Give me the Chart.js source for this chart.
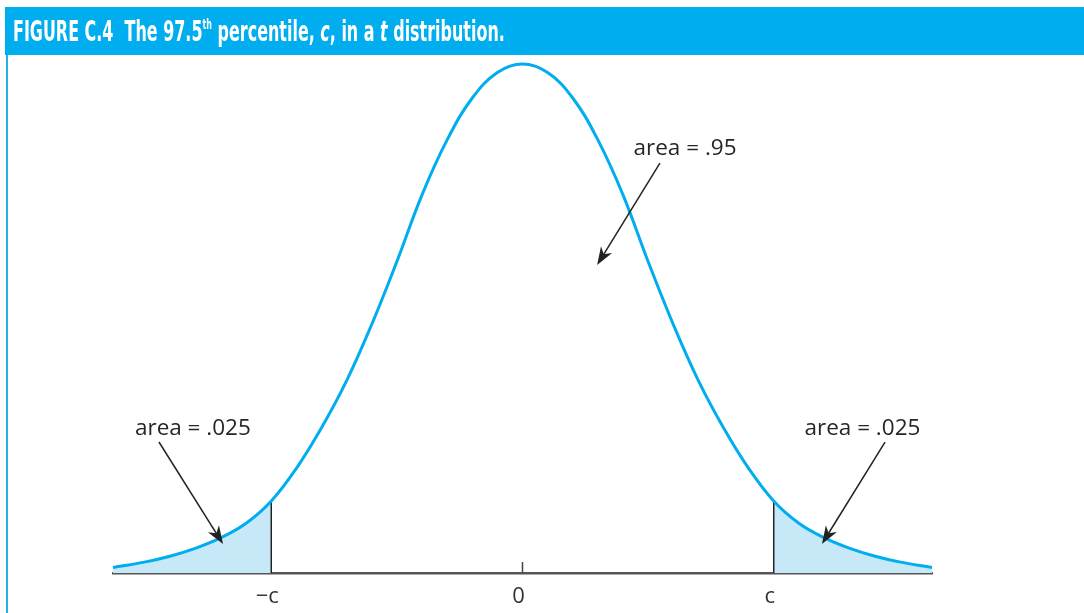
<!DOCTYPE html>
<html>
<head>
<meta charset="utf-8">
<script src="https://cdn.jsdelivr.net/npm/chart.js@4.4.1/dist/chart.umd.min.js"></script>
<style>
  html, body { margin: 0; padding: 0; background: #fff; }
  #page { position: relative; width: 1084px; height: 613px; overflow: hidden; }
  #bar { position: absolute; left: 5px; top: 7px; width: 1079px; height: 48px; background: #00aeef; z-index: 2; }
  #title {
    position: absolute; left: 8px; top: 1px; line-height: 48px; white-space: nowrap; color: #fff;
    font-family: "Liberation Sans Narrow", "DejaVu Sans Condensed", "Liberation Sans", sans-serif;
    font-weight: bold; font-size: 28px; font-stretch: condensed; transform-origin: 0 50%;
  }
  #title sup { font-size: 14px; vertical-align: 12px; line-height: 0; }
  #rule { position: absolute; left: 6px; top: 55px; width: 2px; height: 558px; background: #1fb2ea; }
  canvas { position: absolute; left: 0; top: 0; }
</style>
</head>
<body>
<div id="page">
  <canvas id="tChart" width="1084" height="613"></canvas>
  <div id="bar"><div id="title">FIGURE C.4&nbsp;&nbsp;The 97.5<sup>th</sup> percentile, <i>c</i>, in a <i>t</i> distribution.</div></div>
  <div id="rule"></div>
</div>
<script>
// density curve, x measured in units of c
const curveX = [-1.63, -1.5, -1.4, -1.3, -1.2, -1.1, -1.0, -0.9, -0.8, -0.7, -0.6, -0.5, -0.4, -0.3, -0.2, -0.1,
                0, 0.1, 0.2, 0.3, 0.4, 0.5, 0.6, 0.7, 0.8, 0.9, 1.0, 1.1, 1.2, 1.3, 1.4, 1.5, 1.63];
const curveY = [0.0042, 0.0085, 0.013, 0.019, 0.027, 0.038, 0.055, 0.080, 0.111, 0.147, 0.190, 0.238, 0.289, 0.331, 0.363, 0.3825,
                0.389, 0.3825, 0.363, 0.331, 0.289, 0.238, 0.190, 0.147, 0.111, 0.080, 0.055, 0.038, 0.027, 0.019, 0.013, 0.0085, 0.0042];
const cutoffs = [-1, 1];
const tickValues = [-1, 0, 1];
const tickLabels = ['\u2212c', '0', 'c'];
const zeroMark = [0, 0.0084];

const curvePts = curveX.map((x, i) => ({ x: x, y: curveY[i] }));
const leftTail = curvePts.filter(p => p.x <= cutoffs[0]);
const rightTail = curvePts.filter(p => p.x >= cutoffs[1]);
const heightAt = x => curveY[curveX.indexOf(x)];

const cyan = '#00aeef';
const shade = '#c6e8f7';
const ink = '#222';

const vline = (x, top, color, width) => ({
    data: [{ x: x, y: 0 }, { x: x, y: top }],
    borderColor: color, borderWidth: width, pointRadius: 0, fill: false, clip: false
});

// labelled areas with their pointers
const notes = [
    { text: 'area = .95', x: 0.647, y: 0.3195, from: [0.547, 0.3133], to: [0.297, 0.2354] },
    { text: 'area = .025', x: -1.312, y: 0.1055, from: [-1.447, 0.1001], to: [-1.192, 0.0222] },
    { text: 'area = .025', x: 1.353, y: 0.1055, from: [1.443, 0.1001], to: [1.192, 0.0222] }
];

const notesPlugin = {
    id: 'notes',
    afterDatasetsDraw(chart) {
        const { ctx, scales: { x, y } } = chart;
        ctx.save();
        ctx.strokeStyle = ink;
        ctx.font = '22.5px "Open Sans", "Noto Sans", sans-serif';
        ctx.textAlign = 'center';
        ctx.textBaseline = 'alphabetic';
        notes.forEach(n => {
            ctx.fillStyle = '#262626';
            ctx.fillText(n.text, x.getPixelForValue(n.x), y.getPixelForValue(n.y));
            const x1 = x.getPixelForValue(n.from[0]), y1 = y.getPixelForValue(n.from[1]);
            const x2 = x.getPixelForValue(n.to[0]), y2 = y.getPixelForValue(n.to[1]);
            const a = Math.atan2(y2 - y1, x2 - x1);
            const cos = Math.cos(a), sin = Math.sin(a);
            const len = 18, half = 6.5;
            ctx.lineWidth = 1.5;
            ctx.beginPath();
            ctx.moveTo(x1, y1);
            ctx.lineTo(x2 - cos * len * 0.6, y2 - sin * len * 0.6);
            ctx.stroke();
            ctx.beginPath();
            ctx.moveTo(x2, y2);
            ctx.lineTo(x2 - cos * len - sin * half, y2 - sin * len + cos * half);
            ctx.lineTo(x2 - cos * len * 0.7, y2 - sin * len * 0.7);
            ctx.lineTo(x2 - cos * len + sin * half, y2 - sin * len - cos * half);
            ctx.closePath();
            ctx.fillStyle = ink;
            ctx.fill();
        });
        ctx.restore();
    }
};

new Chart(document.getElementById('tChart'), {
    type: 'line',
    data: {
        datasets: [
            {
                data: curvePts, borderColor: cyan, borderWidth: 3, pointRadius: 0,
                tension: 0.4, fill: false, clip: false
            },
            vline(cutoffs[0], heightAt(cutoffs[0]), ink, 1.5),
            vline(cutoffs[1], heightAt(cutoffs[1]), ink, 1.5),
            vline(0, zeroMark[1], '#444', 1.5),
            {
                data: leftTail, borderWidth: 0, pointRadius: 0, backgroundColor: shade,
                tension: 0.4, fill: 'origin'
            },
            {
                data: rightTail, borderWidth: 0, pointRadius: 0, backgroundColor: shade,
                tension: 0.4, fill: 'origin'
            }
        ]
    },
    options: {
        responsive: false,
        animation: false,
        devicePixelRatio: 1,
        layout: { padding: { left: 113, right: 152, top: 64, bottom: 0 } },
        plugins: { legend: { display: false }, tooltip: { enabled: false } },
        scales: {
            x: {
                type: 'linear', min: -1.63, max: 1.63,
                afterBuildTicks: axis => { axis.ticks = tickValues.map(v => ({ value: v })); },
                afterFit: axis => { axis.height = 40; },
                grid: { display: true, drawOnChartArea: false, drawTicks: false },
                border: { display: true, color: '#555', width: 2.5 },
                ticks: {
                    padding: 11, labelOffset: -4, color: '#333', maxRotation: 0, autoSkip: false,
                    font: { family: '"Open Sans", "Noto Sans", sans-serif', size: 22 },
                    callback: v => tickLabels[tickValues.indexOf(v)]
                }
            },
            y: { display: false, min: 0, max: 0.389 }
        }
    },
    plugins: [notesPlugin]
});

// squeeze the heading to its condensed width
const title = document.getElementById('title');
title.style.transform = 'scaleX(' + (492 / title.scrollWidth) + ')';
</script>
</body>
</html>
